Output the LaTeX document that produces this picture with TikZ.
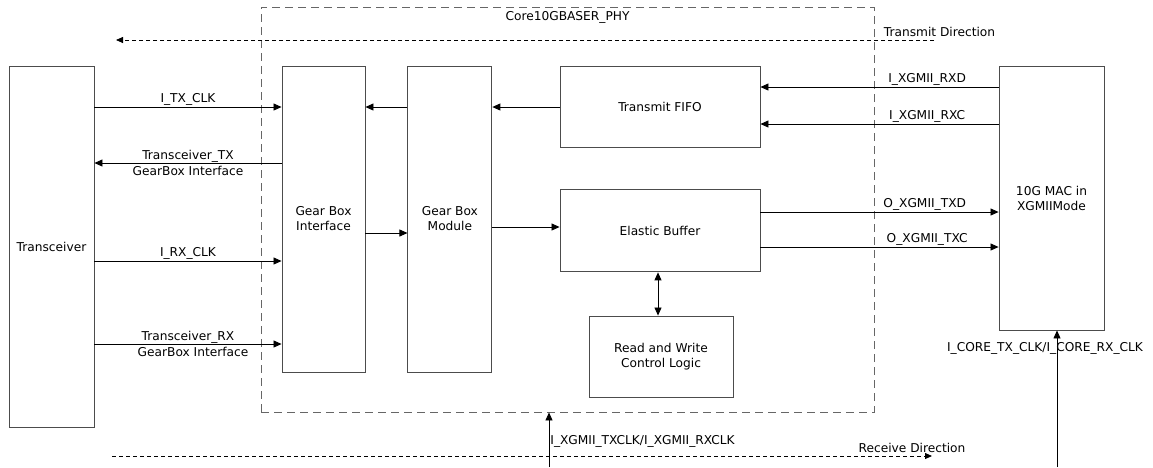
\documentclass[tikz,border=0pt]{standalone}
\usepackage{fontspec}
\setmainfont{DejaVu Sans}
\usepackage{tikz}
\usetikzlibrary{arrows.meta,positioning}

\begin{document}
\begin{tikzpicture}[
  x=1pt, y=-1pt,
  font=\fontsize{12.2}{15}\selectfont,
  blk/.style={rectangle, draw=black!70, line width=0.9pt, align=center, inner sep=0pt},
  core/.style={rectangle, draw=black!60, line width=0.9pt, dash pattern=on 8pt off 5pt},
  arrow/.style={-{Triangle[length=8pt,width=7pt]}, line width=0.8pt},
  dblarrow/.style={{Triangle[length=8pt,width=7pt]}-{Triangle[length=8pt,width=7pt]}, line width=0.8pt},
  dirarrow/.style={-{Triangle[length=7pt,width=6pt]}, line width=0.8pt, dash pattern=on 4pt off 3pt},
  lbl/.style={inner sep=1.5pt},
]
  \useasboundingbox (0,0) rectangle (1153,467);

  % core boundary
  \node[core, minimum width=613pt, minimum height=405pt] (core) at (567.5,209.5) {};
  \node[below=1.5pt of core.north] (coretitle) {Core10GBASER\_PHY};

  % blocks
  \node[blk, minimum width=85pt, minimum height=361pt] (trx) at (51.5,246.5) {Transceiver};
  \node[blk, minimum width=83pt, minimum height=306pt] (gbi) at (323.5,219) {Gear Box\\Interface};
  \node[blk, minimum width=84pt, minimum height=306pt, right=42pt of gbi] (gbm) {Gear Box\\Module};
  \node[blk, minimum width=200pt, minimum height=81pt] (fifo) at (660,106.5) {Transmit FIFO};
  \node[blk, minimum width=200pt, minimum height=82pt, below=42pt of fifo] (ebuf) {Elastic Buffer};
  \node[blk, minimum width=144pt, minimum height=81pt] (rwcl) at (661,356.5) {Read and Write\\Control Logic};
  \node[blk, minimum width=105pt, minimum height=264pt] (mac) at (1051.5,198) {10G MAC in\\XGMIIMode};

  % transceiver side
  \draw[arrow] (trx.east |- 0,107) -- node[lbl, above] {I\_TX\_CLK} (gbi.west |- 0,107);
  \draw[arrow] (gbi.west |- 0,163) -- node[lbl, above, inner sep=0.5pt] {Transceiver\_TX}
    node[lbl, below, inner sep=2.5pt] {GearBox Interface} (trx.east |- 0,163);
  \draw[arrow] (trx.east |- 0,261) -- node[lbl, above] {I\_RX\_CLK} (gbi.west |- 0,261);
  \draw[arrow] (trx.east |- 0,344) -- node[lbl, above, inner sep=0.5pt] {Transceiver\_RX}
    node[lbl, below, inner sep=2.5pt, xshift=5pt] {GearBox Interface} (gbi.west |- 0,344);

  % inside the core
  \draw[arrow] (gbm.west |- 0,107) -- (gbi.east |- 0,107);
  \draw[arrow] (fifo.west |- 0,107) -- (gbm.east |- 0,107);
  \draw[arrow] (gbi.east |- 0,233) -- (gbm.west |- 0,233);
  \draw[arrow] (gbm.east |- 0,227) -- (ebuf.west |- 0,227);
  \draw[dblarrow] (ebuf.south -| 658,0) -- (rwcl.north -| 658,0);

  % MAC side
  \draw[arrow] (mac.west |- 0,87) -- node[lbl, above, pos=0.3] {I\_XGMII\_RXD} (fifo.east |- 0,87);
  \draw[arrow] (mac.west |- 0,124) -- node[lbl, above, pos=0.3] {I\_XGMII\_RXC} (fifo.east |- 0,124);
  \draw[arrow] (ebuf.east |- 0,212) -- node[lbl, above, pos=0.69] {O\_XGMII\_TXD} (mac.west |- 0,212);
  \draw[arrow] (ebuf.east |- 0,247) -- node[lbl, above, pos=0.7] {O\_XGMII\_TXC} (mac.west |- 0,247);

  % clocks
  \coordinate (xgclk) at (549,467);
  \draw[arrow] (xgclk) -- node[right, pos=0.47, inner sep=1pt] {I\_XGMII\_TXCLK/I\_XGMII\_RXCLK} (core.south -| xgclk);
  \coordinate (coreclk) at (1057,467);
  \draw[arrow] (coreclk) -- node[pos=0.87, xshift=-12pt] {I\_CORE\_TX\_CLK/I\_CORE\_RX\_CLK} (mac.south -| coreclk);

  % directions
  \coordinate (txstart) at (934,40);
  \coordinate (txend) at (116,40);
  \draw[dirarrow] (txstart) -- node[lbl, above, pos=0, xshift=5.5pt, yshift=1.5pt] {Transmit Direction} (txend);
  \coordinate (rxstart) at (112,456);
  \coordinate (rxend) at (932,456);
  \draw[dirarrow] (rxstart) -- node[lbl, above, pos=0.9756, yshift=1.5pt] {Receive Direction} (rxend);
\end{tikzpicture}
\end{document}
